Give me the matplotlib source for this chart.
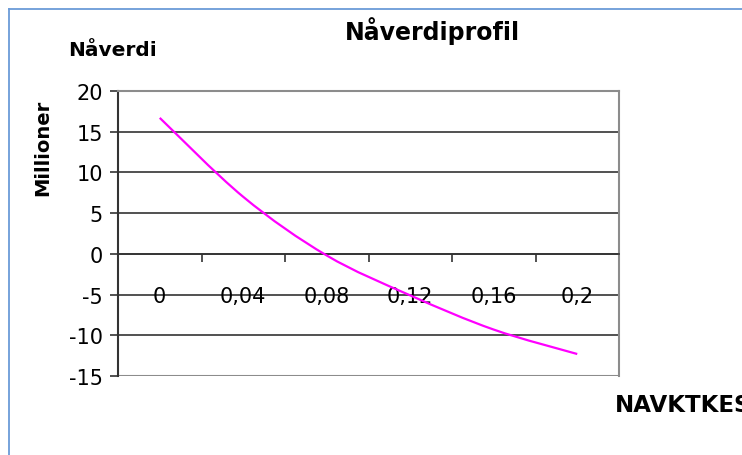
import matplotlib
matplotlib.use('Agg')
import matplotlib.pyplot as plt
from matplotlib.path import Path
from matplotlib.patches import PathPatch
from matplotlib.lines import Line2D
import numpy as np

plt.rcParams['font.family'] = ['DejaVu Sans']

# Data (NPV in millions vs discount rate)
rates = ['0', '0,04', '0,08', '0,12', '0,16', '0,2']
npv = [16.7, 7.0, -0.2, -5.1, -9.3, -12.3]

yticks = [-15, -10, -5, 0, 5, 10, 15, 20]

fig = plt.figure(figsize=(7.42, 4.56), dpi=100)
ax = fig.add_axes([118/742, 1-377/456, (619-118)/742, (377-92)/456])

xs = np.arange(len(rates))
ys = np.array(npv, dtype=float)

# Excel style smoothed line: cubic bezier segments through each point
verts = [(xs[0], ys[0])]
codes = [Path.MOVETO]
n = len(xs)
for i in range(n - 1):
    p0 = np.array([xs[max(i-1, 0)], ys[max(i-1, 0)]])
    p1 = np.array([xs[i], ys[i]])
    p2 = np.array([xs[i+1], ys[i+1]])
    p3 = np.array([xs[min(i+2, n-1)], ys[min(i+2, n-1)]])
    c1 = p1 + (p2 - p0) / 6.0
    c2 = p2 - (p3 - p1) / 6.0
    verts += [tuple(c1), tuple(c2), tuple(p2)]
    codes += [Path.CURVE4, Path.CURVE4, Path.CURVE4]
ax.add_patch(PathPatch(Path(verts, codes), facecolor='none', edgecolor='#FF00FF', lw=1.6, zorder=3))

ax.set_xlim(-0.5, len(rates) - 0.5)
ax.set_ylim(-15, 20)

# gridlines
for v in yticks:
    ax.axhline(v, color='#333333', lw=1.2, zorder=1)

# y axis
ax.set_yticks(yticks)
ax.set_yticklabels([str(v) for v in yticks], fontsize=15)
ax.tick_params(axis='y', direction='out', length=6, width=1.2, color='#333333', pad=5)

# x axis crossing at zero, ticks between categories
ax.spines['bottom'].set_position(('data', 0))
ax.spines['bottom'].set_color('#333333')
ax.spines['bottom'].set_linewidth(1.2)
ax.set_xticks(xs + 0.5)
ax.set_xticklabels([])
ax.set_xticks(xs, minor=True)
ax.set_xticklabels(rates, minor=True, fontsize=15)
ax.tick_params(axis='x', which='major', direction='out', length=6, width=1.2, color='#333333')
ax.tick_params(axis='x', which='minor', length=0, pad=23)

ax.spines['left'].set_color('#333333')
ax.spines['left'].set_linewidth(1.5)
for s in ['top', 'right']:
    ax.spines[s].set_color('#8c8c8c')
    ax.spines[s].set_linewidth(1.5)
# bottom frame of plot area (x axis spine sits at 0)
ax.axhline(-15, color='#8c8c8c', lw=1.5, zorder=2)

# texts
fig.text(345/742, 1-31/456, 'Nåverdiprofil', fontsize=17, fontweight='bold', ha='left', va='center')
fig.text(68/742, 1-50/456, 'Nåverdi', fontsize=14.5, fontweight='bold', ha='left', va='center')
fig.text(43/742, 1-148/456, 'Millioner', fontsize=14, fontweight='bold', rotation=90, ha='center', va='center')
fig.text(615/742, 1-406/456, 'NAVKTKES', fontsize=16.5, fontweight='bold', ha='left', va='center')

# chart area border (light blue, only top and left visible)
fig.add_artist(Line2D([9/742, 9/742], [0, 1-10/456], color='#6b9bd8', lw=1.3, transform=fig.transFigure))
fig.add_artist(Line2D([9/742, 1], [1-10/456, 1-10/456], color='#6b9bd8', lw=1.3, transform=fig.transFigure))

fig.savefig('out.png', dpi=100)
